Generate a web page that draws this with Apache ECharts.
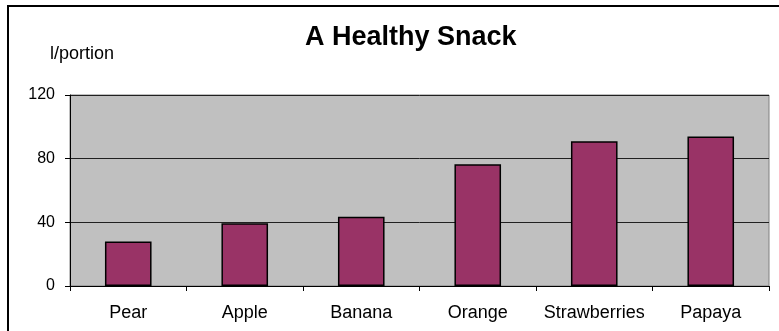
<!DOCTYPE html>
<html>
<head>
<meta charset="utf-8">
<script src="https://cdn.jsdelivr.net/npm/echarts@6/dist/echarts.min.js"></script>
<style>
  html, body { margin: 0; padding: 0; background: #ffffff; }
  #chart { width: 779px; height: 331px; }
</style>
</head>
<body>
<div id="chart"></div>
<script>
// Snack categories and their value per portion
const categories = ['Pear', 'Apple', 'Banana', 'Orange', 'Strawberries', 'Papaya'];
const values = [28, 39.5, 43.5, 76.5, 91, 94];
const yTicks = [0, 40, 80, 120];

const FONT = "'Liberation Sans', Arial, sans-serif";

const chart = echarts.init(document.getElementById('chart'), null, { renderer: 'canvas' });

chart.setOption({
  animation: false,
  backgroundColor: '#ffffff',
  textStyle: { fontFamily: FONT },
  title: [
    {
      text: 'A Healthy Snack',
      left: 300,
      top: 19,
      textStyle: { fontFamily: FONT, fontSize: 27, fontWeight: 'bold', color: '#000000' }
    },
    {
      text: 'l/portion',
      left: 45,
      top: 40,
      textStyle: { fontFamily: FONT, fontSize: 18, fontWeight: 'normal', color: '#000000' }
    }
  ],
  grid: {
    left: 70,
    right: 10,
    top: 95,
    bottom: 45,
    show: true,
    backgroundColor: '#c0c0c0',
    borderColor: '#808080',
    borderWidth: 1
  },
  xAxis: {
    type: 'category',
    data: categories,
    boundaryGap: true,
    axisLine: { show: true, lineStyle: { color: '#000000', width: 1 } },
    axisTick: { show: true, alignWithLabel: false, interval: 0, length: 5, lineStyle: { color: '#000000' } },
    axisLabel: { color: '#000000', fontFamily: FONT, fontSize: 18, margin: 18, interval: 0 },
    splitLine: { show: false }
  },
  yAxis: {
    type: 'value',
    min: yTicks[0],
    max: yTicks[yTicks.length - 1],
    interval: yTicks[1] - yTicks[0],
    axisLine: { show: true, lineStyle: { color: '#000000', width: 1 } },
    axisTick: { show: true, length: 5, lineStyle: { color: '#000000' } },
    axisLabel: { color: '#000000', fontFamily: FONT, fontSize: 16, margin: 15 },
    splitLine: { show: true, lineStyle: { color: '#202020', width: 1 } }
  },
  series: [{
    type: 'bar',
    data: values,
    barWidth: '40%',
    itemStyle: { color: '#993366', borderColor: '#000000', borderWidth: 1.5 }
  }],
  graphic: [{
    type: 'polyline',
    silent: true,
    shape: { points: [[8, 331], [8, 6], [779, 6]] },
    style: { stroke: '#000000', lineWidth: 2, fill: null }
  }]
});
</script>
</body>
</html>
